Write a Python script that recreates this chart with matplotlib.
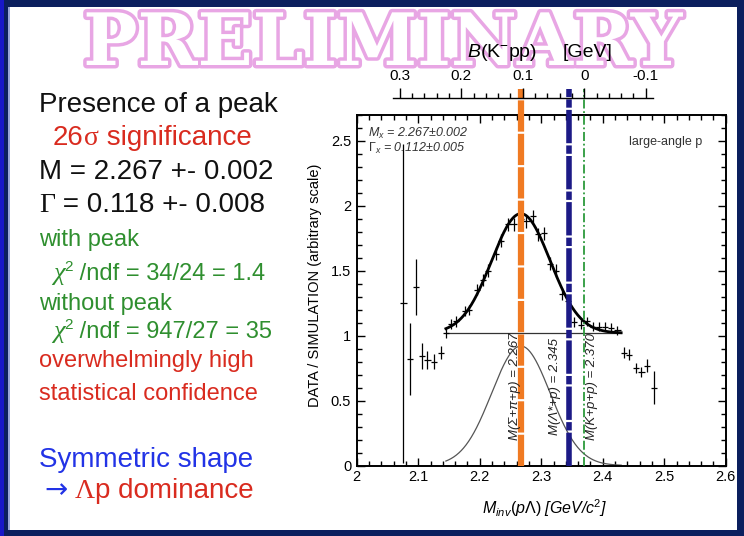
import numpy as np
import matplotlib
matplotlib.use('Agg')
import matplotlib.pyplot as plt
import matplotlib.patheffects as pe
from matplotlib.patches import Rectangle
from matplotlib.ticker import MultipleLocator, FuncFormatter

plt.rcParams['font.family'] = ['Liberation Sans', 'DejaVu Sans']
plt.rcParams['mathtext.fontset'] = 'custom'
plt.rcParams['mathtext.rm'] = 'Liberation Sans'
plt.rcParams['mathtext.it'] = 'Liberation Sans:italic'
plt.rcParams['mathtext.bf'] = 'Liberation Sans:bold'

# invariant mass p-Lambda, data points (GeV/c^2) and ratio DATA/SIMULATION
m_data = [2.076, 2.087, 2.096, 2.106, 2.115, 2.125, 2.137,
          2.145, 2.154, 2.162, 2.176, 2.183, 2.196, 2.205, 2.214, 2.226,
          2.234, 2.246, 2.255, 2.267, 2.276, 2.286, 2.295, 2.305, 2.314,
          2.324, 2.334, 2.344, 2.354, 2.365, 2.374, 2.384, 2.394, 2.404,
          2.414, 2.424,
          2.435, 2.443, 2.454, 2.463, 2.4725, 2.484]
y_data = [1.25, 0.82, 1.375, 0.84, 0.81, 0.80, 0.87,
          1.02, 1.09, 1.11, 1.19, 1.20, 1.355, 1.43, 1.50, 1.63,
          1.73, 1.86, 1.86, 1.90, 1.88, 1.92, 1.78, 1.79, 1.555,
          1.50, 1.32, 1.27, 1.105, 1.086, 1.11, 1.07, 1.07, 1.07,
          1.06, 1.04,
          0.87, 0.855, 0.75, 0.72, 0.77, 0.60]
y_err = [1.23, 0.28, 0.215, 0.10, 0.07, 0.06, 0.05,
         0.04, 0.04, 0.04, 0.04, 0.04, 0.045, 0.045, 0.05, 0.05,
         0.05, 0.05, 0.05, 0.05, 0.05, 0.05, 0.05, 0.05, 0.05,
         0.05, 0.045, 0.045, 0.04, 0.035, 0.035, 0.035, 0.035, 0.035,
         0.035, 0.035,
         0.04, 0.04, 0.04, 0.04, 0.05, 0.13]
bin_half = 0.005

# fit result
M_x = 2.267
Gamma_x = 0.112
fit_amp = 0.92
fit_base = 1.02
fit_range = (2.145, 2.43)

# thresholds
thresholds = [2.267, 2.345, 2.370]
thr_labels = ['M(Σ+π+p) = 2.267', 'M(Λ*+p) = 2.345', 'M(K+p+p) = 2.370']
thr_colors = ['#f07a22', '#1c1a86', '#2c9a3c']
thr_widths = [4.5, 4.0, 1.3]
thr_styles = [(0, (5, 0.35)), (0, (6, 0.4, 1.5, 0.4)), (0, (5, 1.5, 1, 1.5))]
kpp_threshold = 2.370

W, H = 744, 536
fig = plt.figure(figsize=(W / 100, H / 100), dpi=100)
fig.patch.set_facecolor('white')


def fx(px):
    return px / W


def fy(py):
    return 1 - py / H


# slide frame
navy = '#0b1f5e'
for (x0, y0, w, h, c) in [(0, 0, W, 7, navy), (0, H - 6, W, 6, navy),
                          (W - 7, 0, 7, H, navy), (0, 0, 8, H, navy),
                          (0, 0, 4, H, '#1818c8'), (8, 7, 1.5, H - 13, '#9aa6d8')]:
    fig.patches.append(Rectangle((fx(x0), fy(y0 + h)), w / W, h / H,
                                 transform=fig.transFigure, color=c, lw=0, zorder=5))

# watermark
fig.text(fx(383), fy(65), 'PRELIMINARY', ha='center', va='baseline',
         fontsize=52, family='DejaVu Serif', weight='bold', color='white',
         path_effects=[pe.withStroke(linewidth=5, foreground='#e8a6e4')], zorder=1)

# left side notes
red = '#d92b1f'
green = '#2f8f2f'
blue = '#2233e6'
black = '#111111'
renderer = fig.canvas.get_renderer()


def write(x, y, parts):
    for s, col, kw in parts:
        kw = dict(kw)
        dy = kw.pop('dy', 0)
        t = fig.text(fx(x), fy(y - dy), s, color=col, va='baseline', ha='left', **kw)
        x += t.get_window_extent(renderer=renderer).width


sans20 = dict(fontsize=20)
sans17 = dict(fontsize=17)
serif20 = dict(fontsize=20, family='Liberation Serif')
chi = dict(fontsize=19, family='Liberation Serif', style='italic')
sup = dict(fontsize=11, dy=9)

write(39, 112, [('Presence of a peak', black, sans20)])
write(53, 145, [('26', red, sans20), ('σ', red, serif20), (' significance', red, sans20)])
write(39, 179, [('M = 2.267 +- 0.002', black, sans20)])
write(39, 212, [('Γ', black, serif20), (' = 0.118 +- 0.008', black, sans20)])
write(39, 246, [('with peak', green, sans17)])
write(53, 280, [('χ', green, chi), ('2', green, sup), (' /ndf = 34/24 = 1.4', green, sans17)])
write(39, 310, [('without peak', green, sans17)])
write(53, 338, [('χ', green, chi), ('2', green, sup), (' /ndf = 947/27 = 35', green, sans17)])
write(39, 367, [('overwhelmingly high', red, sans17)])
write(39, 400, [('statistical confidence', red, sans17)])
write(39, 467, [('Symmetric shape', blue, sans20)])
write(44, 498, [('→', blue, dict(fontsize=20, family=['DejaVu Sans'])), (' ', red, sans20),
                ('Λ', red, serif20), ('p dominance', red, sans20)])

# main plot
ax = fig.add_axes([fx(356.7), fy(465.5), (725.7 - 356.7) / W, (465.5 - 115) / H])
ax.set_xlim(2.0, 2.6)
ax.set_ylim(0, 2.7)

ax.errorbar(m_data, y_data, yerr=y_err, xerr=bin_half, fmt='none',
            ecolor='black', elinewidth=0.9, capsize=0, zorder=3)

sig = Gamma_x / (2 * np.sqrt(2 * np.log(2)))
mm = np.linspace(fit_range[0], fit_range[1], 400)
peak = fit_amp * np.exp(-0.5 * ((mm - M_x) / sig) ** 2)
ax.plot(mm, fit_base + peak, color='black', lw=2.0, zorder=4)
ax.plot(mm, peak, color='#555555', lw=0.9, zorder=2)
ax.plot(fit_range, [fit_base, fit_base], color='#333333', lw=0.9, zorder=2)

for xv, lab, c, lw, ls in zip(thresholds, thr_labels, thr_colors, thr_widths, thr_styles):
    ax.plot([xv, xv], [0, 2.9], color=c, lw=lw, ls=ls, clip_on=False, zorder=5)
label_x = [2.2574, 2.3224, 2.382]
for xv, lab in zip(label_x, thr_labels):
    ax.text(xv, 0.61, lab, rotation=90, ha='center', va='center', style='italic',
            fontsize=9.5, color='#222222', zorder=6)

ax.text(2.018, 2.555, r'$M_x$ = 2.267±0.002', style='italic', fontsize=9,
        color='#333333', va='center')
ax.text(2.018, 2.44, r'$\Gamma_x$ = 0.112±0.005', style='italic', fontsize=9,
        color='#333333', va='center')
ax.text(2.562, 2.49, 'large-angle p', ha='right', va='center', fontsize=9, color='#333333')

ax.xaxis.set_major_locator(MultipleLocator(0.1))
ax.xaxis.set_minor_locator(MultipleLocator(0.02))
ax.yaxis.set_major_locator(MultipleLocator(0.5))
ax.yaxis.set_minor_locator(MultipleLocator(0.1))
fmt = FuncFormatter(lambda v, p: f'{round(v, 2) + 0.0:g}')
ax.xaxis.set_major_formatter(fmt)
ax.yaxis.set_major_formatter(fmt)
ax.tick_params(which='both', direction='in', top=True, right=True, width=1, labelsize=10.5)
ax.tick_params(which='major', length=5.5)
ax.tick_params(which='minor', length=3.5)
ax.tick_params(axis='x', pad=3)
ax.tick_params(axis='y', pad=4)
for s in ax.spines.values():
    s.set_linewidth(1.4)

fig.text(fx(545), fy(508), r'$M_{inv}(p\Lambda)$ [GeV/c$^2$]', style='italic',
         ha='center', va='center', fontsize=11.5)
fig.text(fx(315), fy(285), 'DATA / SIMULATION (arbitrary scale)', rotation=90,
         ha='center', va='center', fontsize=10.5)

# binding energy axis B = M(K+p+p) - M
axb = fig.add_axes([fx(393), fy(99), (653 - 393) / W, 1 / H])
axb.patch.set_visible(False)
m_lo = 2.0 + (393 - 356.7) / 615
m_hi = 2.0 + (653 - 356.7) / 615
axb.set_xlim(kpp_threshold - m_lo, kpp_threshold - m_hi)
axb.set_ylim(0, 1)
for k, s in axb.spines.items():
    s.set_visible(k == 'top')
    s.set_linewidth(1.0)
axb.set_yticks([])
axb.xaxis.set_ticks_position('top')
axb.xaxis.set_major_locator(MultipleLocator(0.1))
axb.xaxis.set_minor_locator(MultipleLocator(0.02))
axb.xaxis.set_major_formatter(fmt)
axb.tick_params(which='both', direction='out', width=1, labelsize=11, pad=4)
axb.tick_params(which='major', length=7)
axb.tick_params(which='minor', length=3.5)
fig.text(fx(467), fy(57), r'$B$(K$^{-}$pp)', ha='left', va='baseline',
         fontsize=14, zorder=3)
fig.text(fx(563), fy(57), '[GeV]', ha='left', va='baseline', fontsize=14, zorder=3)

fig.savefig('out.png', dpi=100)
